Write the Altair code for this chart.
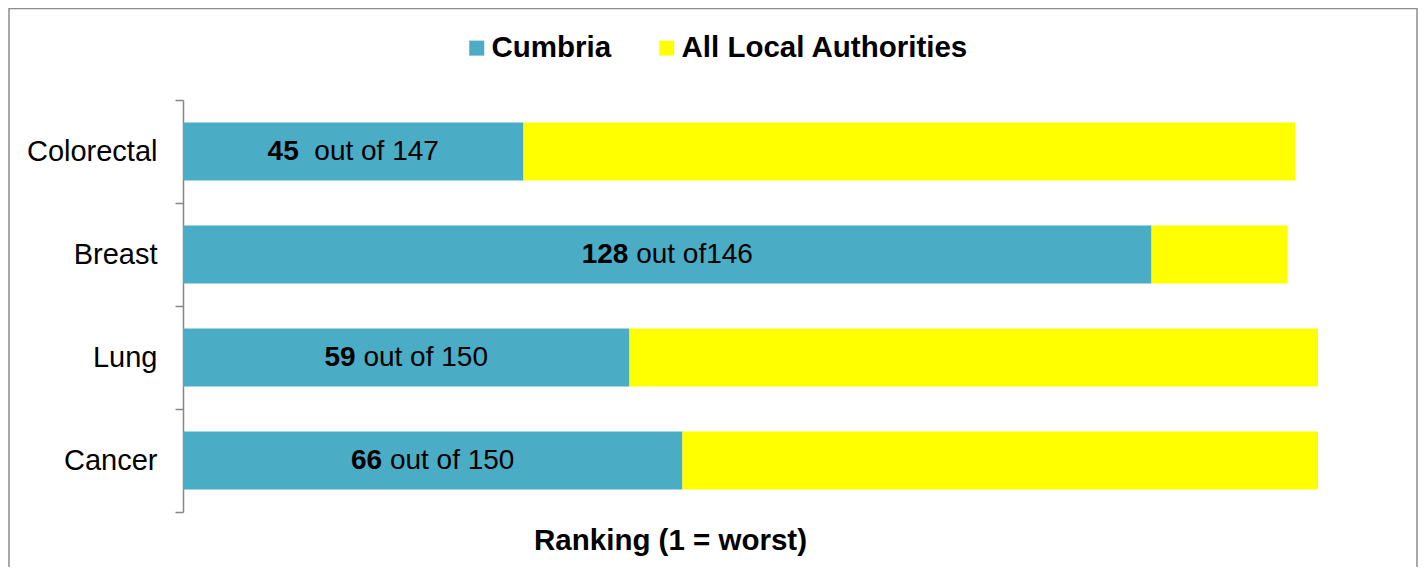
import altair as alt
import pandas as pd

# ---- data ----
categories = ["Colorectal", "Breast", "Lung", "Cancer"]
cumbria_rank = [45, 128, 59, 66]
total_authorities = [147, 146, 150, 150]
rest_text = ["out of 147", "out of146", "out of 150", "out of 150"]
gap_spaces = [2, 1, 1, 1]
series = ["Cumbria", "All Local Authorities"]
colors = ["#4BACC6", "#FFFF00"]

FONT = "Liberation Sans, Arial, Helvetica, sans-serif"
PLOT_W = 1135
PLOT_H = 412
X_MAX = 150
LABEL_SIZE = 28
BIG_SIZE = 29.5

# Arial advance widths (em) for the glyphs used in the bar labels
_REG = {"o": 0.556, "u": 0.556, "t": 0.278, "f": 0.278, " ": 0.278}
_BOLD = {"o": 0.611, "u": 0.611, "t": 0.333, "f": 0.333, " ": 0.278}


def text_w(s, bold=False):
    tbl = _BOLD if bold else _REG
    return sum(tbl.get(c, 0.556) for c in s) * LABEL_SIZE


px_per_unit = PLOT_W / X_MAX

bars = []
labels = []
for cat, r, tot, rest, gs in zip(categories, cumbria_rank, total_authorities, rest_text, gap_spaces):
    bars.append({"category": cat, "series": series[0], "start": 0, "end": r, "ord": 0})
    bars.append({"category": cat, "series": series[1], "start": r, "end": tot, "ord": 1})
    wb = text_w(str(r), bold=True)
    gap = gs * _REG[" "] * LABEL_SIZE
    wr = gap + text_w(rest)
    split_px = (wb - wr) / 2.0
    xb = r / 2.0 + split_px / px_per_unit
    xr = xb + gap / px_per_unit
    labels.append({"category": cat, "num": str(r), "rest": rest, "xb": xb, "xr": xr})

bars_df = pd.DataFrame(bars)
labels_df = pd.DataFrame(labels)

x_scale = alt.Scale(domain=[0, X_MAX], nice=False, zero=True)
y_scale = alt.Scale(domain=categories, paddingInner=0, paddingOuter=0)

x_axis = alt.Axis(
    labels=False, ticks=False, domain=False, grid=False,
    title="Ranking (1 = worst)", titleFont=FONT, titleFontSize=BIG_SIZE,
    titleFontWeight="bold", titleColor="black", titleX=487, titleY=28,
    titleBaseline="middle", titleAlign="center",
)
y_axis = alt.Axis(
    title=None, labelFont=FONT, labelFontSize=29, labelColor="black",
    labelPadding=18, tickSize=8, tickColor="#868686", tickWidth=1.5,
    domainColor="#868686", domainWidth=1.5, tickBand="extent", grid=False,
)

bar_layer = alt.Chart(bars_df).mark_bar(size=58).encode(
    x=alt.X("start:Q", scale=x_scale, axis=x_axis, title="Ranking (1 = worst)"),
    x2="end:Q",
    y=alt.Y("category:N", sort=categories, scale=y_scale, axis=y_axis),
    color=alt.Color(
        "series:N",
        scale=alt.Scale(domain=series, range=colors),
        legend=alt.Legend(
            orient="none", legendX=279, legendY=-67, direction="horizontal",
            title=None, symbolType="square", symbolSize=225, symbolStrokeWidth=0,
            labelFont=FONT, labelFontSize=BIG_SIZE, labelFontWeight="bold",
            labelColor="black", labelOffset=0, columnPadding=40, labelLimit=0,
            padding=0,
        ),
    ),
    order=alt.Order("ord:Q"),
)

num_layer = alt.Chart(labels_df).mark_text(
    align="right", baseline="middle", font=FONT, fontSize=LABEL_SIZE,
    fontWeight="bold", color="black",
).encode(
    x=alt.X("xb:Q", scale=x_scale, axis=x_axis, title="Ranking (1 = worst)"),
    y=alt.Y("category:N", sort=categories, scale=y_scale, axis=y_axis),
    text="num:N",
)

rest_layer = alt.Chart(labels_df).mark_text(
    align="left", baseline="middle", font=FONT, fontSize=LABEL_SIZE,
    color="black",
).encode(
    x=alt.X("xr:Q", scale=x_scale, axis=x_axis, title="Ranking (1 = worst)"),
    y=alt.Y("category:N", sort=categories, scale=y_scale, axis=y_axis),
    text="rest:N",
)

frame = alt.Chart(pd.DataFrame({"k": [0]})).mark_rect(
    fillOpacity=0, stroke="#8c8c8c", strokeWidth=1.5,
).encode(
    x=alt.value(-174), x2=alt.value(1234), y=alt.value(-91.5), y2=alt.value(480),
)

chart = alt.layer(frame, bar_layer, num_layer, rest_layer).properties(
    width=PLOT_W, height=PLOT_H,
    autosize=alt.AutoSizeParams(type="none"),
    padding={"left": 175, "top": 92, "right": 100, "bottom": 55},
    background="white",
).configure_view(strokeWidth=0, stroke=None)

chart.save("out.html", embed_options={"renderer": "svg", "actions": False})
